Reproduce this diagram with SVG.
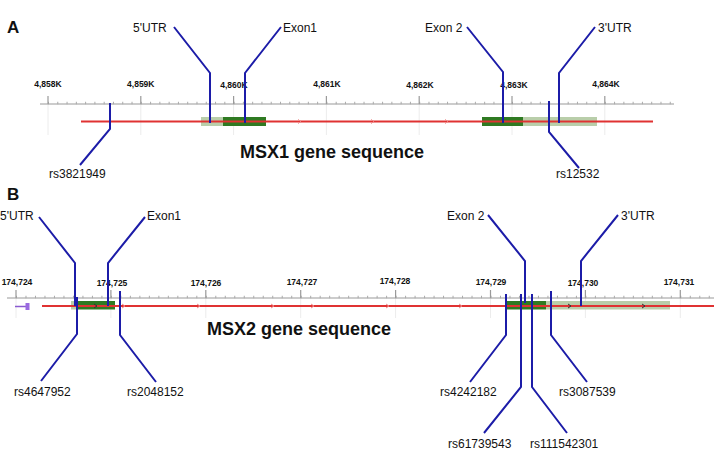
<svg xmlns="http://www.w3.org/2000/svg" width="720" height="458" viewBox="0 0 720 458">
<style>
text{font-family:"Liberation Sans",Arial,sans-serif;fill:#111}
.lbl{font-size:12px}
.tk{font-size:8.5px;font-weight:bold;text-anchor:middle}
.ttl{font-size:18px;font-weight:bold}
.pnl{font-size:17px;font-weight:bold}
.ax{stroke:#9a9a9a;stroke-width:1.2;fill:none}
.grid{stroke:#ececec;stroke-width:1;fill:none}
.red{stroke:#e03232;stroke-width:2;fill:none}
.lead{stroke:#1c1ca8;stroke-width:2;fill:none;stroke-linejoin:miter}
.dg{fill:#2f7a22}
.lg{fill:#b9ceaa}
.chev{stroke:#e88;stroke-width:1;fill:none}
</style>
<rect width="720" height="458" fill="#fff"/>

<g id="panel-A">
<text class="pnl" x="7" y="33">A</text>
<g id="axis-A">
<path class="grid" d="M48,104V135M140.8,104V135M233.6,104V135M326.4,104V135M419.2,104V135M512,104V135M604.8,104V135"/>
<path class="ax" d="M40,104H674"/>
<path d="M48,103H674" stroke="#aaa" stroke-width="2.5" stroke-dasharray="1 8.28"/>
<path class="ax" d="M48,96V104M140.8,96V104M233.6,96V104M326.4,96V104M419.2,96V104M512,96V104M604.8,96V104"/>
<text class="tk" x="48" y="87">4,858K</text>
<text class="tk" x="140.8" y="87">4,859K</text>
<text class="tk" x="234" y="88">4,860K</text>
<text class="tk" x="327" y="87">4,861K</text>
<text class="tk" x="420" y="88">4,862K</text>
<text class="tk" x="514" y="88">4,863K</text>
<text class="tk" x="606" y="87">4,864K</text>
</g>
<g id="gene-MSX1">
<rect class="lg" x="201" y="117" width="22" height="9"/>
<rect class="dg" x="223" y="117" width="43" height="9"/>
<rect class="dg" x="482" y="117" width="41" height="9"/>
<rect class="lg" x="523" y="117" width="74" height="9"/>
<path class="red" d="M81,121.5H653"/>
<path class="chev" d="M298,119.5l3,2l-3,2M371,119.5l3,2l-3,2M445,119.5l3,2l-3,2"/>
</g>
<text id="title-A" class="ttl" x="240" y="158">MSX1 gene sequence</text>
</g>

<g id="panel-B">
<text class="pnl" x="7" y="200">B</text>
<g id="axis-B">
<path class="grid" d="M16,298V318M110.9,298V318M205.8,298V318M300.7,298V318M395.6,298V318M490.5,298V318M585.4,298V318M680.3,298V318"/>
<path class="ax" d="M7,298H714"/>
<path d="M16,297H714" stroke="#aaa" stroke-width="2.5" stroke-dasharray="1 8.49"/>
<path class="ax" d="M16,290V298M110.9,290V298M205.8,290V298M300.7,290V298M395.6,290V298M490.5,290V298M585.4,290V298M680.3,290V298"/>
<text class="tk" x="17" y="285">174,724</text>
<text class="tk" x="112" y="286">174,725</text>
<text class="tk" x="206" y="286">174,726</text>
<text class="tk" x="302" y="285">174,727</text>
<text class="tk" x="395" y="284">174,728</text>
<text class="tk" x="491" y="285">174,729</text>
<text class="tk" x="583" y="286">174,730</text>
<text class="tk" x="679" y="285">174,731</text>
</g>
<g id="gene-MSX2">
<path d="M15,306.5H27" stroke="#8a5ad0" stroke-width="1.5"/>
<rect x="25.5" y="303" width="4" height="7" fill="#9a6ae0"/>
<rect class="lg" x="71" y="301" width="7" height="8.5"/>
<rect class="dg" x="78" y="301" width="37" height="8.5"/>
<rect class="dg" x="506" y="301" width="40" height="8.5"/>
<rect class="lg" x="546" y="301" width="124" height="8.5"/>
<path class="red" d="M42,306H714"/>
<path class="chev" d="M122,304l3,2l-3,2M197,304l3,2l-3,2M271,304l3,2l-3,2M311,304l3,2l-3,2M386,304l3,2l-3,2M459,304l3,2l-3,2"/>
<path d="M94,304l3,2l-3,2M568,304l3,2l-3,2M642,304l3,2l-3,2" stroke="#333" stroke-width="1" fill="none"/>
</g>
<text id="title-B" class="ttl" x="207" y="335">MSX2 gene sequence</text>
</g>

<g id="connectors">
<path class="lead" d="M174,27L210,73V123"/>
<path class="lead" d="M281,27L245,73V123"/>
<path class="lead" d="M467,27L503,72V123"/>
<path class="lead" d="M595,27L559,73V123"/>
<path class="lead" d="M110,103V129L80,165"/>
<path class="lead" d="M549,101V132L579,168"/>
<path class="lead" d="M39,217L75,263V306"/>
<path class="lead" d="M145,217L108,263V306"/>
<path class="lead" d="M488,215L525,261V303"/>
<path class="lead" d="M618,215L581,261V306"/>
<path class="lead" d="M77,297V334L41,381"/>
<path class="lead" d="M120,291V335L156,382"/>
<path class="lead" d="M506,294V335L470,382"/>
<path class="lead" d="M521,294V387L484,433"/>
<path class="lead" d="M532,294V387L567,433"/>
<path class="lead" d="M551,291V335L587,382"/>
</g>

<g id="labels">
<text class="lbl" x="133" y="32">5'UTR</text>
<text class="lbl" x="283" y="32">Exon1</text>
<text class="lbl" x="425" y="32">Exon 2</text>
<text class="lbl" x="598" y="32">3'UTR</text>
<text class="lbl" x="49" y="178">rs3821949</text>
<text class="lbl" x="556" y="178">rs12532</text>
<text class="lbl" x="0" y="220">5'UTR</text>
<text class="lbl" x="147" y="220">Exon1</text>
<text class="lbl" x="447" y="220">Exon 2</text>
<text class="lbl" x="621" y="220">3'UTR</text>
<text class="lbl" x="14" y="396">rs4647952</text>
<text class="lbl" x="127" y="396">rs2048152</text>
<text class="lbl" x="440" y="396">rs4242182</text>
<text class="lbl" x="559" y="396">rs3087539</text>
<text class="lbl" x="448" y="448">rs61739543</text>
<text class="lbl" x="530" y="448">rs111542301</text>
</g>
</svg>
